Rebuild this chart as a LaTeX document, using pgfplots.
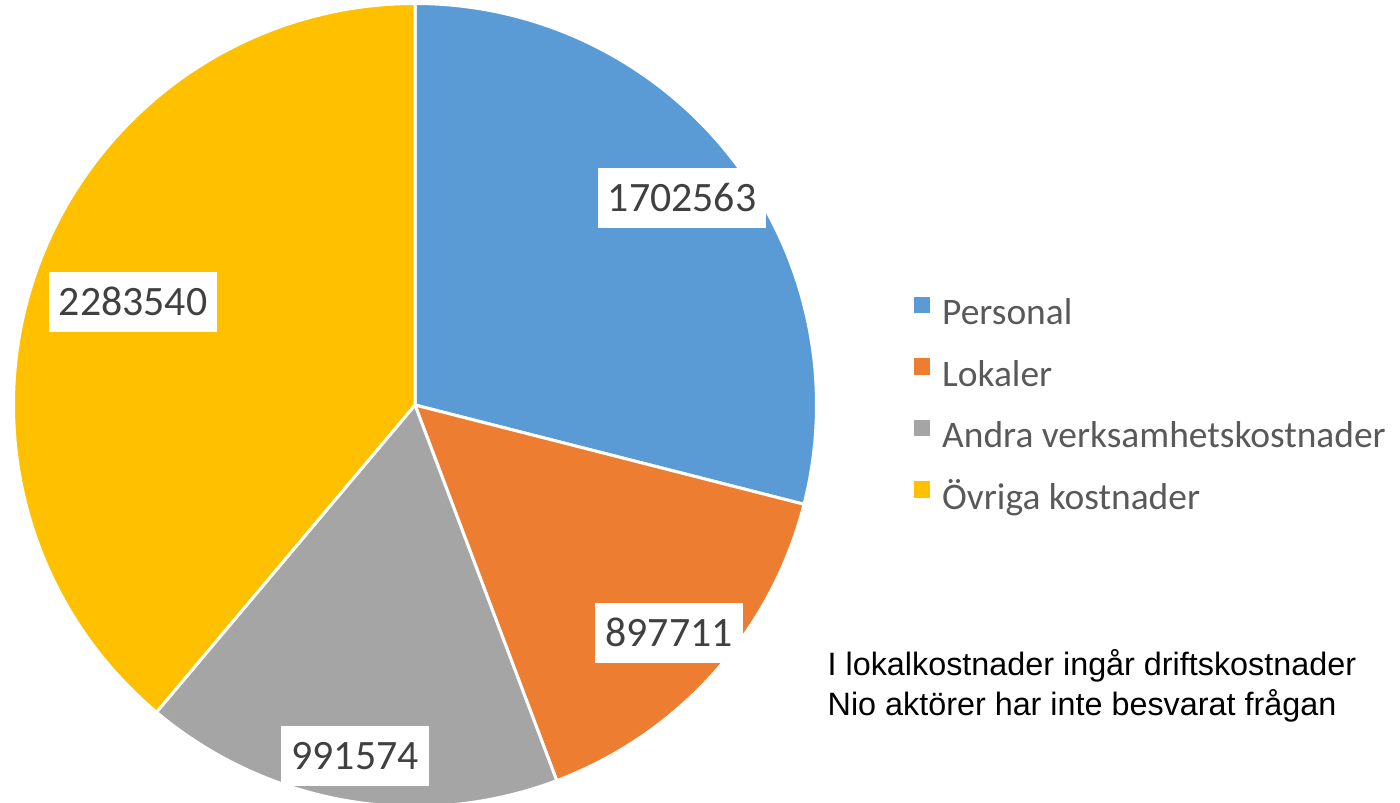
\documentclass[border=0pt]{standalone}
\usepackage{fontspec}
\setmainfont{Carlito}
\newfontfamily\arialfont{Liberation Sans}
\usepackage{pgfplots}
\pgfplotsset{compat=1.18}

\definecolor{cA}{HTML}{5B9BD5}
\definecolor{cB}{HTML}{ED7D31}
\definecolor{cC}{HTML}{A5A5A5}
\definecolor{cD}{HTML}{FFC000}
\definecolor{lbltext}{HTML}{404040}
\definecolor{legtext}{HTML}{595959}

% data
\def\vA{1702563}% Personal
\def\vB{897711}%  Lokaler
\def\vC{991574}%  Andra verksamhetskostnader
\def\vD{2283540}% Övriga kostnader

\pgfkeys{/pgf/fpu=true,/pgf/fpu/output format=fixed}
\pgfmathsetmacro\tot{\vA+\vB+\vC+\vD}
\pgfmathsetmacro\aA{90-360*\vA/\tot}
\pgfmathsetmacro\aB{\aA-360*\vB/\tot}
\pgfmathsetmacro\aC{\aB-360*\vC/\tot}
\pgfkeys{/pgf/fpu=false}

\tikzset{lbl/.style={fill=white, text=lbltext, font=\fontsize{11.9}{14}\selectfont,
    inner xsep=1mm, inner ysep=1.65mm, text height=2.7mm, text depth=0mm, anchor=center}}

\begin{document}
\begin{tikzpicture}
\begin{axis}[
  at={(0,0)}, anchor=south west,
  hide axis, scale only axis,
  width=140mm, height=80.2mm,
  xmin=0, xmax=1400, ymin=-802, ymax=0,
  enlargelimits=false,
  clip=true,
  legend style={at={(axis cs:913,-294)}, anchor=north west, draw=none, fill=none,
    inner sep=0pt, row sep=2.15mm, column sep=1.2mm,
    font=\fontsize{10.65}{12.6}\selectfont, text=legtext,
    nodes={inner sep=0pt, text height=3mm, text depth=1mm}},
  legend cell align=left,
  legend image code/.code={\fill[#1] (0mm,0.15mm) rectangle (1.65mm,1.8mm);},
]
\addlegendimage{fill=cA, draw=none}\addlegendentry{Personal}
\addlegendimage{fill=cB, draw=none}\addlegendentry{Lokaler}
\addlegendimage{fill=cC, draw=none}\addlegendentry{Andra verksamhetskostnader}
\addlegendimage{fill=cD, draw=none}\addlegendentry{Övriga kostnader}

\def\R{40.15mm}
\filldraw[fill=cA, draw=white, line width=0.3mm, line join=round]
  (axis cs:415,-405) -- ++(90:\R) arc[start angle=90, end angle=\aA, radius=\R] -- cycle;
\filldraw[fill=cB, draw=white, line width=0.3mm, line join=round]
  (axis cs:415,-405) -- ++(\aA:\R) arc[start angle=\aA, end angle=\aB, radius=\R] -- cycle;
\filldraw[fill=cC, draw=white, line width=0.3mm, line join=round]
  (axis cs:415,-405) -- ++(\aB:\R) arc[start angle=\aB, end angle=\aC, radius=\R] -- cycle;
\filldraw[fill=cD, draw=white, line width=0.3mm, line join=round]
  (axis cs:415,-405) -- ++(\aC:\R) arc[start angle=\aC, end angle=-270, radius=\R] -- cycle;

\node[lbl] at (axis cs:682,-198) {\vA};
\node[lbl] at (axis cs:669,-633) {\vB};
\node[lbl] at (axis cs:355,-756) {\vC};
\node[lbl] at (axis cs:133,-302) {\vD};

\node[anchor=base west, inner sep=0pt, font=\arialfont\fontsize{9.2}{11}\selectfont]
  at (axis cs:827,-675) {I lokalkostnader ingår driftskostnader};
\node[anchor=base west, inner sep=0pt, font=\arialfont\fontsize{9.2}{11}\selectfont]
  at (axis cs:827,-715) {Nio aktörer har inte besvarat frågan};
\end{axis}
\pgfresetboundingbox
\path[use as bounding box] (0,0) rectangle (140mm,80.2mm);
\end{tikzpicture}
\end{document}
